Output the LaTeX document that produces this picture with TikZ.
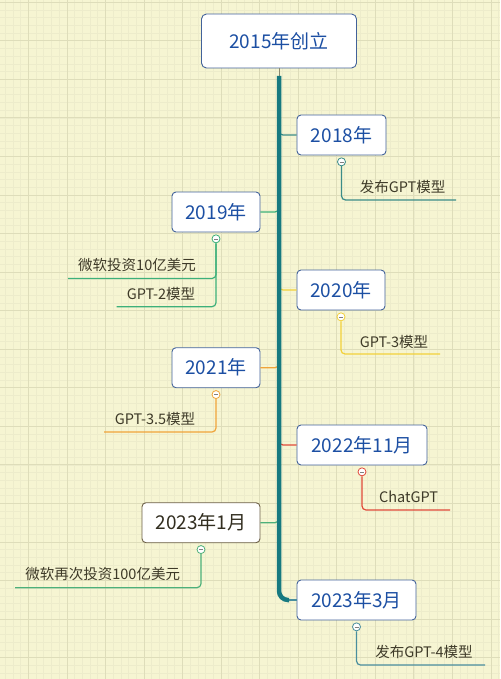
\documentclass[tikz,border=0pt]{standalone}
\usepackage{fontspec}
\setmainfont{Noto Sans CJK SC}
\usetikzlibrary{positioning}
\usetikzlibrary{calc}

\definecolor{paper}{HTML}{F6F5D2}
\definecolor{minorgrid}{HTML}{EDECCB}
\definecolor{majorgrid}{HTML}{DEDDBA}
\definecolor{boxline}{HTML}{42629A}
\definecolor{boxtext}{HTML}{1C4FA3}
\definecolor{leaftext}{HTML}{3E3A28}
\definecolor{trunkcol}{HTML}{177A80}
\definecolor{stubcol}{HTML}{8C8A70}
\definecolor{c18}{HTML}{3B8C88}
\definecolor{c19}{HTML}{3DB07A}
\definecolor{c20}{HTML}{F2D13A}
\definecolor{c21}{HTML}{F0A43A}
\definecolor{c22}{HTML}{E0493A}
\definecolor{c23a}{HTML}{4DB07A}
\definecolor{c23b}{HTML}{4A8E9E}
\definecolor{darkline}{HTML}{6B5E45}

\begin{document}
\begin{tikzpicture}[
  x=1pt,y=-1pt,node distance=2pt,
  year/.style={draw=boxline,fill=white,rounded corners=4pt,text=boxtext,
    minimum height=40pt,inner xsep=0pt,line width=0.9pt,
    font=\fontsize{19}{19}\selectfont},
  leaf/.style={text=leaftext,inner sep=0pt,font=\fontsize{14.5}{15}\selectfont},
  branch/.style={line width=1.2pt,rounded corners=4pt},
  collapse/.style={circle,fill=white,minimum size=8pt,inner sep=0pt,line width=0.8pt,
    path picture={\draw[gray,line width=0.6pt]
      ($(path picture bounding box.center)+(-2,0)$) -- ($(path picture bounding box.center)+(2,0)$);}}
  ]
  \useasboundingbox (0,0) rectangle (500,679);
  \fill[paper] (0,0) rectangle (500,679);
  \foreach \i in {0,...,64} \draw[minorgrid,line width=0.5pt] ({5.12+\i*7.71},0) -- ({5.12+\i*7.71},679);
  \foreach \i in {0,...,87} \draw[minorgrid,line width=0.5pt] (0,{2.15+\i*7.71}) -- (500,{2.15+\i*7.71});
  \foreach \i in {0,...,12} \draw[majorgrid,line width=0.6pt] ({28.25+\i*38.55},0) -- ({28.25+\i*38.55},679);
  \foreach \i in {0,...,17} \draw[majorgrid,line width=0.6pt] (0,{2.15+\i*38.55}) -- (500,{2.15+\i*38.55});

  \node (root)   [year,minimum width=155pt,minimum height=54pt,rounded corners=5pt] at (279,41)  {2015年创立};
  \node (y2018)  [year,minimum width=89pt]  at (341.5,135) {2018年};
  \node (y2019)  [year,minimum width=88pt]  at (216,212)   {2019年};
  \node (y2020)  [year,minimum width=88pt]  at (341,290)   {2020年};
  \node (y2021)  [year,minimum width=88pt]  at (216,367.7) {2021年};
  \node (y2022)  [year,minimum width=130pt] at (362,445)   {2022年11月};
  \node (y2023a) [year,minimum width=118pt,draw=darkline,text=leaftext!80!black] at (201,522.7) {2023年1月};
  \node (y2023b) [year,minimum width=119pt] at (356.5,600) {2023年3月};

  \coordinate (top)    at (279,76);
  \coordinate (t2018)  at (279,127);
  \coordinate (t2019)  at (279,205);
  \coordinate (t2020)  at (279,283);
  \coordinate (t2021)  at (279,361);
  \coordinate (t2022)  at (279,438);
  \coordinate (t2023a) at (279,516);
  \coordinate (bend)   at (289,600);

  \draw[stubcol,line width=1pt] (root.south) -- (top);
  \draw[branch,c18]  (t2018)  |- (y2018.west);
  \draw[branch,c19]  (t2019)  |- (y2019.east);
  \draw[branch,c20]  (t2020)  |- (y2020.west);
  \draw[branch,c21]  (t2021)  |- (y2021.east);
  \draw[branch,c22]  (t2022)  |- (y2022.west);
  \draw[branch,c23a] (t2023a) |- (y2023a.east);
  \draw[branch,c23b] (bend) -- (y2023b.west);
  \draw[trunkcol,line width=4.5pt,rounded corners=9pt] (top) |- (bend);

  \node (l2018)  [leaf] at (402.5,187) {发布GPT模型};
  \node (l2019a) [leaf] at (137,265)   {微软投资10亿美元};
  \node (l2019b) [leaf] at (161,294)   {GPT-2模型};
  \node (l2020)  [leaf] at (394,342)   {GPT-3模型};
  \node (l2021)  [leaf] at (155,419)   {GPT-3.5模型};
  \node (l2022)  [leaf] at (408.5,497) {ChatGPT};
  \node (l2023a) [leaf] at (102.7,574) {微软再次投资100亿美元};
  \node (l2023b) [leaf] at (424,651.7) {发布GPT-4模型};

  \node (c2018)  [collapse,draw=c18,below=of y2018]   {};
  \node (c2019)  [collapse,draw=c19,below=of y2019]   {};
  \node (c2020)  [collapse,draw=c20,below=of y2020]   {};
  \node (c2021)  [collapse,draw=c21,below=of y2021]   {};
  \node (c2022)  [collapse,draw=c22,below=of y2022]   {};
  \node (c2023a) [collapse,draw=c23a,below=of y2023a] {};
  \node (c2023b) [collapse,draw=c23b,below=of y2023b] {};

  \coordinate (e2018)  at (456,200);
  \coordinate (e2019a) at (68,278.5);
  \coordinate (e2019b) at (116.7,306.7);
  \coordinate (e2020)  at (440,354);
  \coordinate (e2021)  at (104,432);
  \coordinate (e2022)  at (450,510);
  \coordinate (e2023a) at (15,587.7);
  \coordinate (e2023b) at (485,665);

  \draw[branch,c18]  (c2018.south)  |- (e2018);
  \draw[branch,c19]  (c2019.south)  |- (e2019b);
  \draw[branch,c19]  (e2019a) -| (c2019.south);
  \draw[branch,c20]  (c2020.south)  |- (e2020);
  \draw[branch,c21]  (c2021.south)  |- (e2021);
  \draw[branch,c22]  (c2022.south)  |- (e2022);
  \draw[branch,c23a] (c2023a.south) |- (e2023a);
  \draw[branch,c23b] (c2023b.south) |- (e2023b);
\end{tikzpicture}
\end{document}
